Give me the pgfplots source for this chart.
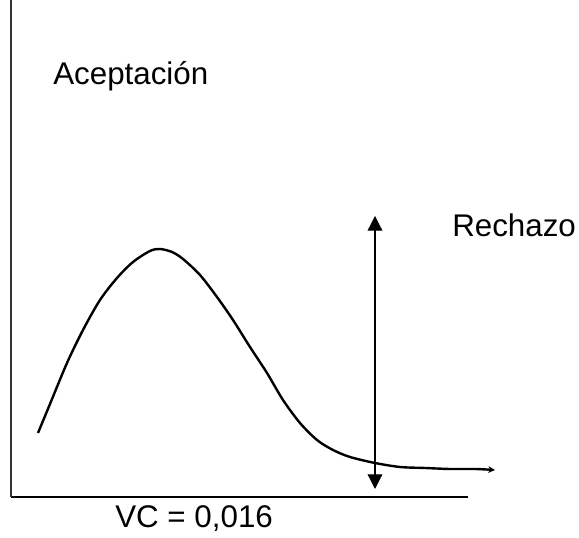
\documentclass[border=0pt]{standalone}
\usepackage{fontspec}
\setmainfont{Liberation Sans}
\usepackage{pgfplots}
\pgfplotsset{compat=1.18}
\usetikzlibrary{arrows.meta}
\begin{document}
\begin{tikzpicture}
\begin{axis}[
  scale only axis, width=342.75pt, height=372.75pt,
  xmin=11, xmax=468, ymin=41, ymax=538,
  axis x line*=bottom, axis y line*=left,
  x axis line style={line width=1.5pt,-},
  y axis line style={line width=0.8pt,draw=black!80,-},
  xtick=\empty, ytick=\empty,
  clip=false,
]
\addplot[black, line width=1.8pt, smooth, -{Stealth[length=5pt,width=5pt]}] coordinates {
 (38,105) (50,134) (67,175) (83,208) (100,238) (117,260) (133,276) (150,287) (160,289)
 (172,286) (183,279) (200,263) (217,241) (233,218) (250,191) (267,165) (283,138)
 (300,115) (317,98) (333,88) (350,81) (375,75) (400,71) (425,70) (450,69) (475,69) (495,68)
};
\addplot[black, line width=0.9pt, {Triangle[length=11pt,width=11pt]}-{Triangle[length=11pt,width=11pt]}] coordinates {(375,322) (375,49)};
\node[anchor=base west, inner sep=0, font=\fontsize{23.5}{28}\selectfont] at (axis cs:53,453) {Aceptación};
\node[anchor=base west, inner sep=0, font=\fontsize{23.5}{28}\selectfont] at (axis cs:452,301) {Rechazo};
\node[anchor=base west, inner sep=0, font=\fontsize{23.5}{28}\selectfont] at (axis cs:115,10) {VC = 0,016};
\coordinate (bl) at (axis cs:0,0);
\coordinate (tr) at (axis cs:579,538);
\end{axis}
\pgfresetboundingbox
\path[use as bounding box] (bl) rectangle (tr);
\end{tikzpicture}
\end{document}
